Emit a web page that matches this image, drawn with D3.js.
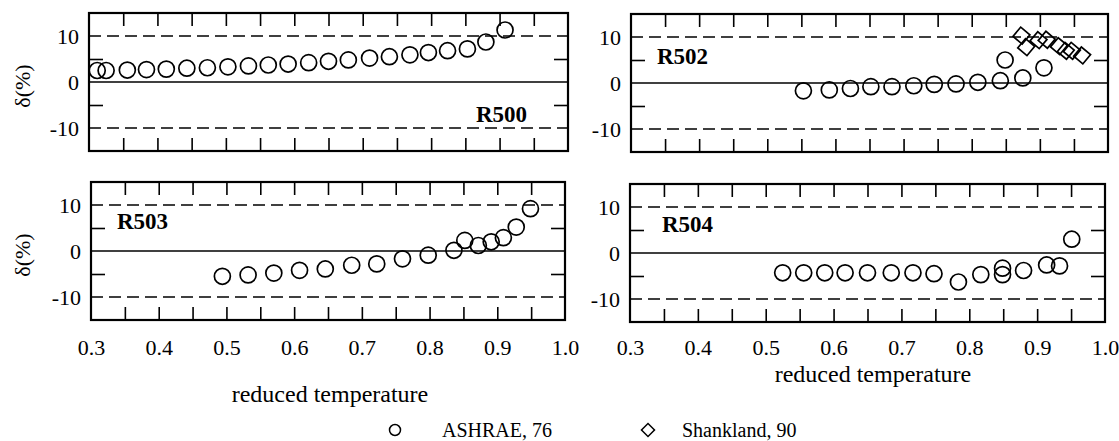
<!DOCTYPE html>
<html>
<head>
<meta charset="utf-8">
<script src="https://cdn.jsdelivr.net/npm/d3@7"></script>
<style>
  body { margin: 0; background: #fff; }
</style>
</head>
<body>
<script>
// reduced temperature (x) and deviation in % (y)
var r500T = [0.312, 0.325, 0.356, 0.384, 0.413, 0.443, 0.473, 0.503, 0.533, 0.562, 0.591,
             0.621, 0.650, 0.679, 0.710, 0.739, 0.769, 0.796, 0.824, 0.853, 0.880, 0.908];
var r500D = [2.5, 2.5, 2.6, 2.7, 2.8, 3.0, 3.1, 3.3, 3.5, 3.7, 3.9,
             4.2, 4.5, 4.8, 5.2, 5.5, 5.9, 6.4, 6.8, 7.2, 8.7, 11.3];

var r502T = [0.553, 0.591, 0.622, 0.652, 0.683, 0.715, 0.745, 0.777, 0.809, 0.842, 0.849, 0.875, 0.906];
var r502D = [-1.7, -1.5, -1.2, -0.8, -0.8, -0.6, -0.3, -0.2, 0.15, 0.5, 5.0, 1.1, 3.3];
var r502ShankT = [0.873, 0.880, 0.898, 0.910, 0.928, 0.938, 0.947, 0.962];
var r502ShankD = [10.3, 7.8, 9.3, 9.4, 8.0, 7.0, 7.0, 6.0];

var r503T = [0.494, 0.532, 0.570, 0.608, 0.646, 0.685, 0.722, 0.760, 0.798, 0.836,
             0.852, 0.872, 0.891, 0.909, 0.928, 0.949];
var r503D = [-5.5, -5.2, -4.8, -4.2, -3.9, -3.1, -2.8, -1.7, -0.9, 0.15,
             2.3, 1.2, 2.0, 2.9, 5.2, 9.2];

var r504T = [0.525, 0.556, 0.587, 0.617, 0.650, 0.685, 0.717, 0.748, 0.784, 0.817,
             0.849, 0.849, 0.880, 0.914, 0.933, 0.951];
var r504D = [-4.3, -4.3, -4.3, -4.3, -4.3, -4.3, -4.3, -4.5, -6.3, -4.7,
             -3.3, -4.7, -3.8, -2.6, -2.8, 3.0];

var xTicks = [0.3, 0.4, 0.5, 0.6, 0.7, 0.8, 0.9, 1.0];
var xTickLabels = ['0.3', '0.4', '0.5', '0.6', '0.7', '0.8', '0.9', '1.0'];
var xMinor = [0.35, 0.4, 0.45, 0.5, 0.55, 0.6, 0.65, 0.7, 0.75, 0.8, 0.85, 0.9, 0.95];
var yTicks = [-10, 0, 10];
var yTickLabels = ['-10', '0', '10'];
var yMinor = [-5, 5];
var legendLabels = ['ASHRAE, 76', 'Shankland, 90'];

var serif = '"Liberation Serif", "Times New Roman", serif';

var svg = d3.select('body').append('svg')
  .attr('width', 1119)
  .attr('height', 441)
  .style('font-family', serif);

svg.append('rect').attr('width', 1119).attr('height', 441).attr('fill', '#fff');

var panels = [
  {name: 'R500', t: r500T, d: r500D, l: 89, r: 568, top: 13, bot: 151,
   lx: 527, ly: 122, anchor: 'end', yLabel: true, xLabels: false},
  {name: 'R502', t: r502T, d: r502D, st: r502ShankT, sd: r502ShankD, l: 631, r: 1108, top: 14, bot: 152,
   lx: 657, ly: 64, anchor: 'start', yLabel: false, xLabels: false},
  {name: 'R503', t: r503T, d: r503D, l: 91, r: 565, top: 182, bot: 320,
   lx: 117, ly: 229, anchor: 'start', yLabel: true, xLabels: true},
  {name: 'R504', t: r504T, d: r504D, l: 630, r: 1105, top: 184, bot: 322,
   lx: 662, ly: 232, anchor: 'start', yLabel: false, xLabels: true}
];

var diamond = d3.symbol().type(d3.symbolSquare).size(144);

panels.forEach(function(p){
  var x = d3.scaleLinear().domain([0.3, 1.0]).range([p.l, p.r]);
  var y = d3.scaleLinear().domain([-15, 15]).range([p.bot, p.top]);
  var g = svg.append('g');

  // reference lines at -10, 0, 10
  g.selectAll('.ref').data(yTicks).enter().append('line')
    .attr('x1', p.l).attr('x2', p.r)
    .attr('y1', function(d){ return y(d); })
    .attr('y2', function(d){ return y(d); })
    .attr('stroke', '#000')
    .attr('stroke-width', 1.6)
    .attr('stroke-dasharray', function(d){ return d === 0 ? null : '12,6'; });

  // inner ticks on all four sides
  var tickAxes = [
    [d3.axisBottom(x).tickValues(xMinor).tickSize(-13), 'translate(0,' + p.bot + ')'],
    [d3.axisTop(x).tickValues(xMinor).tickSize(-13), 'translate(0,' + p.top + ')'],
    [d3.axisLeft(y).tickValues(yMinor).tickSize(-14), 'translate(' + p.l + ',0)'],
    [d3.axisRight(y).tickValues(yMinor).tickSize(-14), 'translate(' + p.r + ',0)']
  ];
  tickAxes.forEach(function(a){
    var ax = g.append('g').attr('transform', a[1]).call(a[0].tickFormat(''));
    ax.select('.domain').remove();
    ax.selectAll('line').attr('stroke', '#000').attr('stroke-width', 1.6);
  });

  // y tick labels
  var yl = g.append('g').attr('transform', 'translate(' + p.l + ',0)')
    .call(d3.axisLeft(y).tickValues(yTicks).tickSize(0).tickPadding(10)
      .tickFormat(function(d, i){ return yTickLabels[i]; }));
  yl.attr('font-family', null).attr('font-size', null);
  yl.select('.domain').remove();
  yl.selectAll('text').style('font-family', serif).style('font-size', '22px');

  // x tick labels under the lower panels
  if (p.xLabels) {
    var xl = g.append('g').attr('transform', 'translate(0,' + p.bot + ')')
      .call(d3.axisBottom(x).tickValues(xTicks).tickSize(0).tickPadding(p.bot === 320 ? 19 : 17)
        .tickFormat(function(d, i){ return xTickLabels[i]; }));
    xl.attr('font-family', null).attr('font-size', null);
    xl.select('.domain').remove();
    xl.selectAll('text').style('font-family', serif).style('font-size', '22px');
  }

  // frame
  g.append('rect')
    .attr('x', p.l).attr('y', p.top)
    .attr('width', p.r - p.l).attr('height', p.bot - p.top)
    .attr('fill', 'none').attr('stroke', '#000').attr('stroke-width', 2.2);

  // ASHRAE points
  g.selectAll('.pt').data(p.t).enter().append('circle')
    .attr('cx', function(d){ return x(d); })
    .attr('cy', function(d, i){ return y(p.d[i]); })
    .attr('r', 8)
    .attr('fill', 'none')
    .attr('stroke', '#000')
    .attr('stroke-width', 1.7);

  // Shankland points
  if (p.st) {
    g.selectAll('.dm').data(p.st).enter().append('path')
      .attr('d', diamond)
      .attr('transform', function(d, i){
        return 'translate(' + x(d) + ',' + y(p.sd[i]) + ') rotate(40)';
      })
      .attr('fill', 'none')
      .attr('stroke', '#000')
      .attr('stroke-width', 1.7);
  }

  // refrigerant name
  g.append('text')
    .attr('x', p.lx).attr('y', p.ly)
    .attr('text-anchor', p.anchor)
    .style('font-size', '23px')
    .style('font-weight', 'bold')
    .text(p.name);

  if (p.yLabel) {
    g.append('text')
      .attr('transform', 'translate(30,' + (y(0) + 4) + ') rotate(-90)')
      .attr('text-anchor', 'middle')
      .style('font-size', '22px')
      .text('δ(%)');
  }
});

// axis titles
svg.append('text').attr('x', 330).attr('y', 402).attr('text-anchor', 'middle')
  .style('font-size', '24px').text('reduced temperature');
svg.append('text').attr('x', 873).attr('y', 382).attr('text-anchor', 'middle')
  .style('font-size', '24px').text('reduced temperature');

// legend
var leg = svg.append('g');
leg.append('circle').attr('cx', 395).attr('cy', 430).attr('r', 5.5)
  .attr('fill', 'none').attr('stroke', '#000').attr('stroke-width', 1.5);
leg.append('text').attr('x', 442).attr('y', 437).style('font-size', '20px').text(legendLabels[0]);
leg.append('path').attr('d', d3.symbol().type(d3.symbolSquare).size(85))
  .attr('transform', 'translate(648,430) rotate(45)')
  .attr('fill', 'none').attr('stroke', '#000').attr('stroke-width', 1.5);
leg.append('text').attr('x', 682).attr('y', 437).style('font-size', '20px').text(legendLabels[1]);
</script>
</body>
</html>
